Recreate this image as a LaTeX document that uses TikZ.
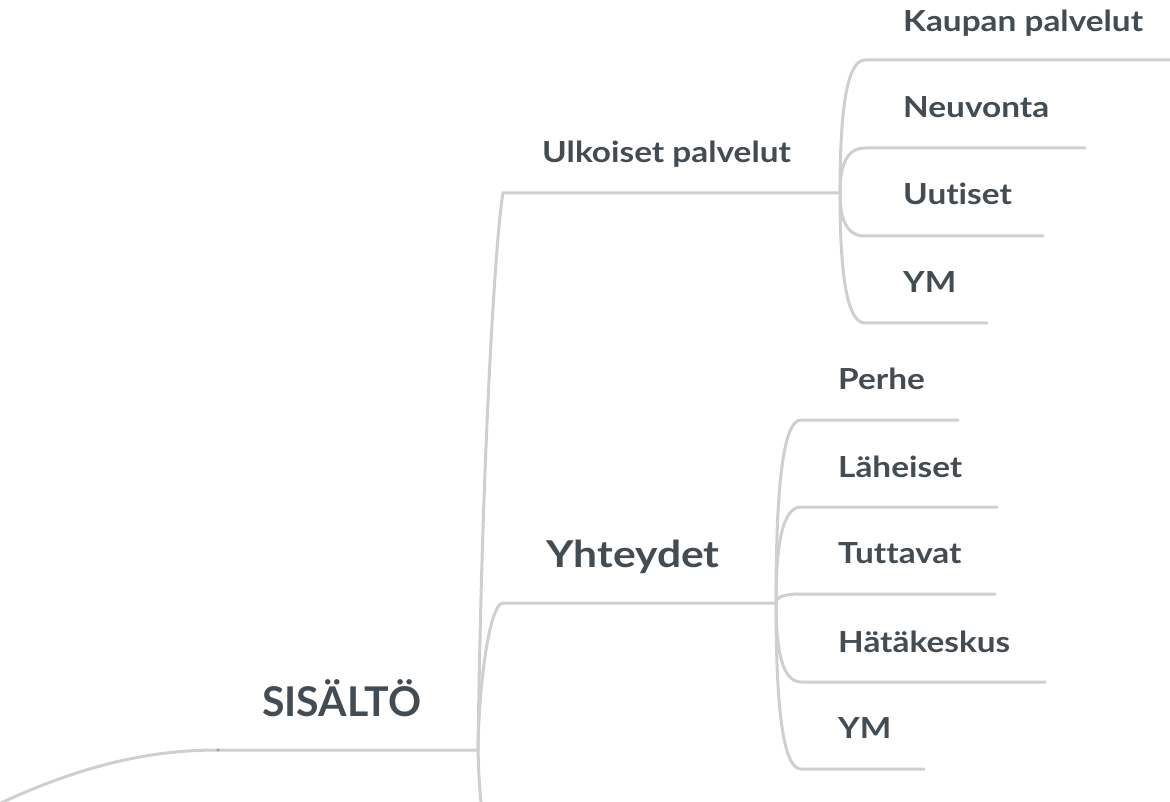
\documentclass[tikz,border=0pt]{standalone}
\usepackage{fontspec}
\setmainfont{Lato}[Ligatures=NoCommon]
\newfontfamily\widefont[FakeStretch=1.15,Ligatures=NoCommon]{Lato}
\usetikzlibrary{calc}
\definecolor{ink}{HTML}{434C52}
\definecolor{wire}{HTML}{CFCFCF}
\definecolor{knot}{HTML}{9A9A9A}
\begin{document}
\begin{tikzpicture}[x=1pt,y=-1pt,
  branch/.style={draw=wire,line width=3pt,line cap=round},
  leafcurve/.style={to path={.. controls ($(\tikztostart)!0.6!(\tikztostart|-\tikztotarget)$) and ($(\tikztostart|-\tikztotarget)!0.25!(\tikztotarget)$) .. (\tikztotarget)}},
  label/.style={anchor=base west,inner sep=0pt,text=ink,font=\widefont\bfseries\fontsize{29}{34}\selectfont},
  big/.style={label,font=\widefont\bfseries\fontsize{37}{44}\selectfont},
  topic/.style={label,font=\bfseries\fontsize{41}{48}\selectfont}]
\useasboundingbox (0,0) rectangle (1170,802);
\clip (0,0) rectangle (1170,802);

% trunk and junctions
\coordinate (root0) at (-10,808);
\coordinate (rootdot) at (218,750);
\coordinate (hub) at (478,750);
\coordinate (down) at (482,815);
\coordinate (ulkC) at (503,193);
\coordinate (ulkE) at (840,193);
\coordinate (yhtC) at (503,603);
\coordinate (yhtE) at (776,603);

% leaf corners and ends (Ulkoiset palvelut)
\coordinate (kauC) at (865,60);  \coordinate (kauE) at (1178,60);
\coordinate (neuC) at (865,148); \coordinate (neuE) at (1085,148);
\coordinate (uutC) at (865,236); \coordinate (uutE) at (1043,236);
\coordinate (ymaC) at (865,323); \coordinate (ymaE) at (987,323);

% leaf corners and ends (Yhteydet)
\coordinate (perC) at (801,420); \coordinate (perE) at (958,420);
\coordinate (lahC) at (801,507); \coordinate (lahE) at (997,507);
\coordinate (tutC) at (801,594); \coordinate (tutE) at (995,594);
\coordinate (hatC) at (801,682); \coordinate (hatE) at (1045,682);
\coordinate (ymbC) at (801,769); \coordinate (ymbE) at (924,769);

% connectors
\draw[branch] (root0) .. controls ($(rootdot)+(-148,20)$) and ($(rootdot)+(-78,0)$) .. (rootdot) -- (hub);
\draw[branch] (hub) .. controls ($(hub)+(1,30)$) .. (down);
\draw[branch] (hub) .. controls ($(hub)+(4,-300)$) and ($(ulkC)+(-7,37)$) .. (ulkC) -- (ulkE);
\draw[branch] (hub) .. controls ($(hub)+(1,-70)$) and ($(yhtC)+(-13,0)$) .. (yhtC) -- (yhtE);

\foreach \c/\e in {kauC/kauE,neuC/neuE,uutC/uutE,ymaC/ymaE}
  \draw[branch] (ulkE) to[leafcurve] (\c) -- (\e);
\foreach \c/\e in {perC/perE,lahC/lahE,tutC/tutE,hatC/hatE,ymbC/ymbE}
  \draw[branch] (yhtE) to[leafcurve] (\c) -- (\e);

\fill[knot] (rootdot) circle (1.6);

% labels
\node[topic] (sisalto) at (262,716) {SISÄLTÖ};
\node[label] (ulkoiset) at (542,163) {Ulkoiset palvelut};
\node[big] (yhteydet) at (546,567) {Yhteydet};

\node[label] (kaupan) at (903,32) {Kaupan palvelut};
\node[label] (neuvonta) at (903,118) {Neuvonta};
\node[label] (uutiset) at (903,205) {Uutiset};
\node[label] (ym1) at (903,293) {YM};

\node[label] (perhe) at (838,389) {Perhe};
\node[label] (laheiset) at (838,477) {Läheiset};
\node[label] (tuttavat) at (838,563) {Tuttavat};
\node[label] (hata) at (838,652) {Hätäkeskus};
\node[label] (ym2) at (838,738) {YM};
\end{tikzpicture}
\end{document}
